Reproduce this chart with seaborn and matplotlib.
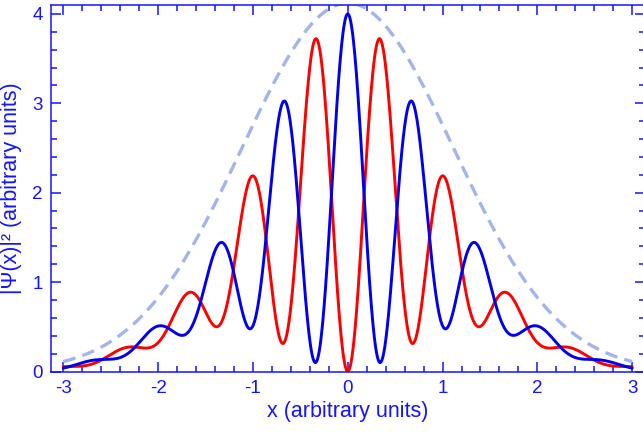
import numpy as np
import pandas as pd
import seaborn as sns
import matplotlib.pyplot as plt
from matplotlib.ticker import MultipleLocator

# Fringe spacing (blue peak to blue peak)
fringe_period = 0.69

# Values at the fringe extrema (x >= 0, curves are symmetric)
x_ext = np.arange(8) * fringe_period / 2
blue_ext = np.array([4.00, 0.12, 2.98, 0.49, 1.40, 0.39, 0.47, 0.15])
red_ext = np.array([0.00, 3.71, 0.37, 2.14, 0.50, 0.84, 0.28, 0.24])

# Dashed envelope read at a few points
x_env = np.array([0.0, 0.94, 1.19, 2.03, 3.0])
env_val = np.array([4.00, 2.93, 2.36, 0.80, 0.11])

# Smooth curves: mean of the two states and fringe contrast, fitted in log space
mean_ext = (blue_ext + red_ext) / 2
contrast_ext = np.abs(blue_ext - red_ext) / (blue_ext + red_ext)
fit_w = np.array([10, 1, 1, 1, 1, 1, 1, 1])  # red touches zero at x = 0
mean_fit = np.polyfit(x_ext**2, np.log(mean_ext), 3, w=fit_w)
contrast_fit = np.polyfit(x_ext**2, np.log(contrast_ext), 3, w=fit_w)
env_fit = np.polyfit(x_env**2, np.log(env_val), 1)

x = np.linspace(-3, 3, 1201)
mean = np.exp(np.polyval(mean_fit, x**2))
contrast = np.minimum(np.exp(np.polyval(contrast_fit, x**2)), 1.0)
fringe = np.cos(2 * np.pi * x / fringe_period)

df = pd.DataFrame({
    "x": x,
    "blue": mean * (1 + contrast * fringe),
    "red": mean * (1 - contrast * fringe),
    "env": np.exp(np.polyval(env_fit, x**2)),
})

sns.set_style("ticks")
plt.rcParams["font.family"] = ["Liberation Sans", "DejaVu Sans"]
plt.rcParams["axes.unicode_minus"] = False

axis_blue = "#1414ff"
fig = plt.figure(figsize=(6.43, 4.37), dpi=100)
ax = fig.add_axes([51 / 643, 65.5 / 437, 593.5 / 643, 366.5 / 437])

sns.lineplot(data=df, x="x", y="env", ax=ax, color="#a3b5ee", lw=2.4,
             dashes=False, zorder=1)
ax.lines[-1].set_dashes((3.8, 2.2))
sns.lineplot(data=df, x="x", y="red", ax=ax, color="#ff0000", lw=2.1, zorder=2)
sns.lineplot(data=df, x="x", y="blue", ax=ax, color="#0000ee", lw=2.1, zorder=3)

ax.set_xlim(-3.13, 3.13)
ax.set_ylim(0, 4.1)
ax.xaxis.set_major_locator(MultipleLocator(1))
ax.xaxis.set_minor_locator(MultipleLocator(0.2))
ax.yaxis.set_major_locator(MultipleLocator(1))
ax.yaxis.set_minor_locator(MultipleLocator(0.2))
ax.tick_params(which="both", direction="in", top=True, right=True,
               color=axis_blue, labelcolor=axis_blue, labelsize=13.5, width=1.1)
ax.tick_params(which="major", length=7, pad=6)
ax.tick_params(which="minor", length=4)
for s in ax.spines.values():
    s.set_color(axis_blue)
    s.set_linewidth(1.1)

ax.set_xlabel("x (arbitrary units)", color=axis_blue, fontsize=15.5, labelpad=3)
ax.set_ylabel("|Ψ(x)|² (arbitrary units)", color=axis_blue, fontsize=15.5, labelpad=7)

plt.savefig("out.png", dpi=100)
